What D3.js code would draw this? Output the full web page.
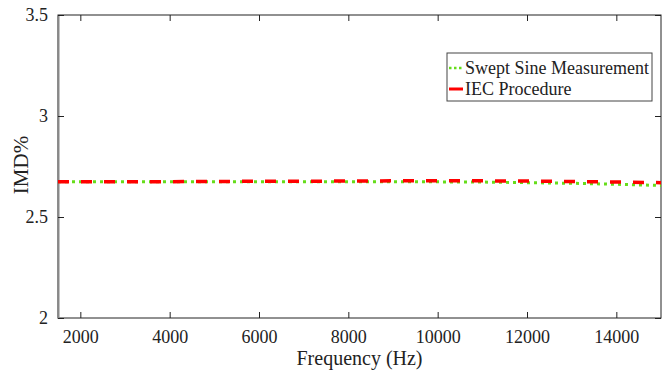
<!DOCTYPE html>
<html>
<head>
<meta charset="utf-8">
<script src="https://cdn.jsdelivr.net/npm/d3@7"></script>
<style>
  body { margin: 0; background: #fff; }
  text { font-family: "Liberation Serif", "Times New Roman", serif; fill: #222; }
</style>
</head>
<body>
<div id="chart"></div>
<script>
// frequencies (Hz)
var freq = [1500, 2000, 3000, 4000, 5000, 6000, 7000, 8000, 9000, 10000, 11000, 12000, 13000, 14000, 15000];
// IMD% per method
var swept = [2.674, 2.674, 2.674, 2.674, 2.675, 2.675, 2.675, 2.675, 2.675, 2.674, 2.673, 2.670, 2.667, 2.662, 2.656];
var iec   = [2.674, 2.674, 2.674, 2.675, 2.676, 2.677, 2.677, 2.678, 2.679, 2.679, 2.679, 2.678, 2.676, 2.673, 2.670];
var xTicks = [2000, 4000, 6000, 8000, 10000, 12000, 14000];
var yTicks = [2, 2.5, 3, 3.5];
var seriesNames = ["Swept Sine Measurement", "IEC Procedure"];

var w = 668, h = 375;
var plotL = 58, plotR = 661, plotT = 15, plotB = 318;

var svg = d3.select("#chart").append("svg")
  .attr("width", w)
  .attr("height", h);

var x = d3.scaleLinear().domain([1500, 15000]).range([plotL, plotR]);
var y = d3.scaleLinear().domain([2, 3.5]).range([plotB, plotT]);

// box
svg.append("rect")
  .attr("x", plotL).attr("y", plotT)
  .attr("width", plotR - plotL).attr("height", plotB - plotT)
  .attr("fill", "none").attr("stroke", "#222").attr("stroke-width", 1);

// bottom axis, ticks inward
var xAxis = svg.append("g")
  .attr("transform", "translate(0," + plotB + ")")
  .call(d3.axisBottom(x).tickValues(xTicks).tickSizeInner(-6).tickSizeOuter(0).tickPadding(12).tickFormat(d3.format("d")));
xAxis.select(".domain").remove();
xAxis.selectAll("line").attr("stroke", "#222");
xAxis.selectAll("text").style("font-size", "18px").attr("fill", "#222");

// top ticks
var xTop = svg.append("g")
  .attr("transform", "translate(0," + plotT + ")")
  .call(d3.axisTop(x).tickValues(xTicks).tickSizeInner(-6).tickSizeOuter(0).tickFormat(""));
xTop.select(".domain").remove();
xTop.selectAll("line").attr("stroke", "#222");

// left axis
var yAxis = svg.append("g")
  .attr("transform", "translate(" + plotL + ",0)")
  .call(d3.axisLeft(y).tickValues(yTicks).tickSizeInner(-6).tickSizeOuter(0).tickPadding(10).tickFormat(d3.format("")));
yAxis.select(".domain").attr("stroke", "#888").attr("stroke-width", 2);
yAxis.selectAll("line").attr("stroke", "#222");
yAxis.selectAll("text").style("font-size", "18px").attr("fill", "#222");

// right ticks
var yRight = svg.append("g")
  .attr("transform", "translate(" + plotR + ",0)")
  .call(d3.axisRight(y).tickValues(yTicks).tickSizeInner(-6).tickSizeOuter(0).tickFormat(""));
yRight.select(".domain").remove();
yRight.selectAll("line").attr("stroke", "#222");

// axis titles
svg.append("text")
  .attr("x", (plotL + plotR) / 2).attr("y", 365)
  .attr("text-anchor", "middle")
  .style("font-size", "20px")
  .text("Frequency (Hz)");

svg.append("text")
  .attr("transform", "translate(28," + 165 + ") rotate(-90)")
  .attr("text-anchor", "middle")
  .style("font-size", "21px")
  .text("IMD%");

// lines
var line = d3.line()
  .x(function(d) { return x(d[0]); })
  .y(function(d) { return y(d[1]); });

// green first so the red dashes sit over it
svg.append("path")
  .datum(freq.map(function(f, i) { return [f, swept[i]]; }))
  .attr("d", line)
  .attr("fill", "none")
  .attr("stroke", "#66dd1a")
  .attr("stroke-width", 3)
  .attr("stroke-dasharray", "3,4");

svg.append("path")
  .datum(freq.map(function(f, i) { return [f, iec[i]]; }))
  .attr("d", line)
  .attr("fill", "none")
  .attr("stroke", "#ff0000")
  .attr("stroke-width", 3.5)
  .attr("stroke-dasharray", "11,12");

// legend
var lg = svg.append("g");
lg.append("rect")
  .attr("x", 447).attr("y", 53)
  .attr("width", 205).attr("height", 48)
  .attr("fill", "#fff").attr("stroke", "#444").attr("stroke-width", 1);

var legendStyle = [
  { color: "#66dd1a", dash: "2.5,2.5", width: 2.5 },
  { color: "#ff0000", dash: null, width: 3 }
];
seriesNames.forEach(function(name, i) {
  var yy = 68 + i * 21;
  lg.append("line")
    .attr("x1", 449).attr("x2", 463)
    .attr("y1", yy).attr("y2", yy)
    .attr("stroke", legendStyle[i].color)
    .attr("stroke-width", legendStyle[i].width)
    .attr("stroke-dasharray", legendStyle[i].dash);
  lg.append("text")
    .attr("x", 465).attr("y", yy + 6)
    .style("font-size", "18px")
    .text(name);
});
</script>
</body>
</html>
